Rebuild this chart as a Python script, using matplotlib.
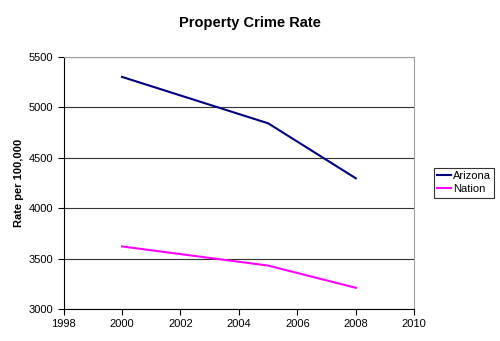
import matplotlib
matplotlib.use("Agg")
import matplotlib.pyplot as plt

# values
years = [2000, 2005, 2008]
arizona = [5300, 4840, 4295]
nation = [3620, 3430, 3210]
xticks = [1998, 2000, 2002, 2004, 2006, 2008, 2010]
yticks = [3000, 3500, 4000, 4500, 5000, 5500]

plt.rcParams["font.family"] = ["Liberation Sans", "DejaVu Sans"]

fig = plt.figure(figsize=(5.0, 3.41), dpi=100)
ax = fig.add_axes([63.5 / 500, 1 - 309 / 341, (414.3 - 63.5) / 500, (309 - 56.7) / 341])

ax.plot(years, arizona, color="#000080", lw=1.5, label="Arizona")
ax.plot(years, nation, color="#ff00ff", lw=1.5, label="Nation")

ax.set_xlim(1998, 2010)
ax.set_ylim(3000, 5500)
ax.set_xticks(xticks)
ax.set_yticks(yticks)
ax.tick_params(labelsize=8, length=4, width=0.8, color="black")
ax.tick_params(axis="x", pad=3)
ax.yaxis.grid(True, color="#333333", lw=0.8)
ax.set_axisbelow(True)

for s in ["left", "bottom"]:
    ax.spines[s].set_color("black")
    ax.spines[s].set_linewidth(0.8)
for s in ["right", "top"]:
    ax.spines[s].set_color("#a0a0a0")
    ax.spines[s].set_linewidth(0.8)

ax.set_ylabel("Rate per 100,000", fontsize=8, fontweight="bold", labelpad=3)
fig.text(0.5, 1 - 23 / 341, "Property Crime Rate", ha="center", va="center",
    fontsize=10.5, fontweight="bold")

leg = ax.legend(loc="center left", bbox_to_anchor=(434 / 500, 1 - 182.5 / 341),
    bbox_transform=fig.transFigure, fontsize=8, frameon=True, fancybox=False,
    handlelength=1.2, handletextpad=0.2, borderpad=0.3, labelspacing=0.3,
    borderaxespad=0)
leg.get_frame().set_edgecolor("black")
leg.get_frame().set_linewidth(0.8)

fig.savefig("out.png", dpi=100)
